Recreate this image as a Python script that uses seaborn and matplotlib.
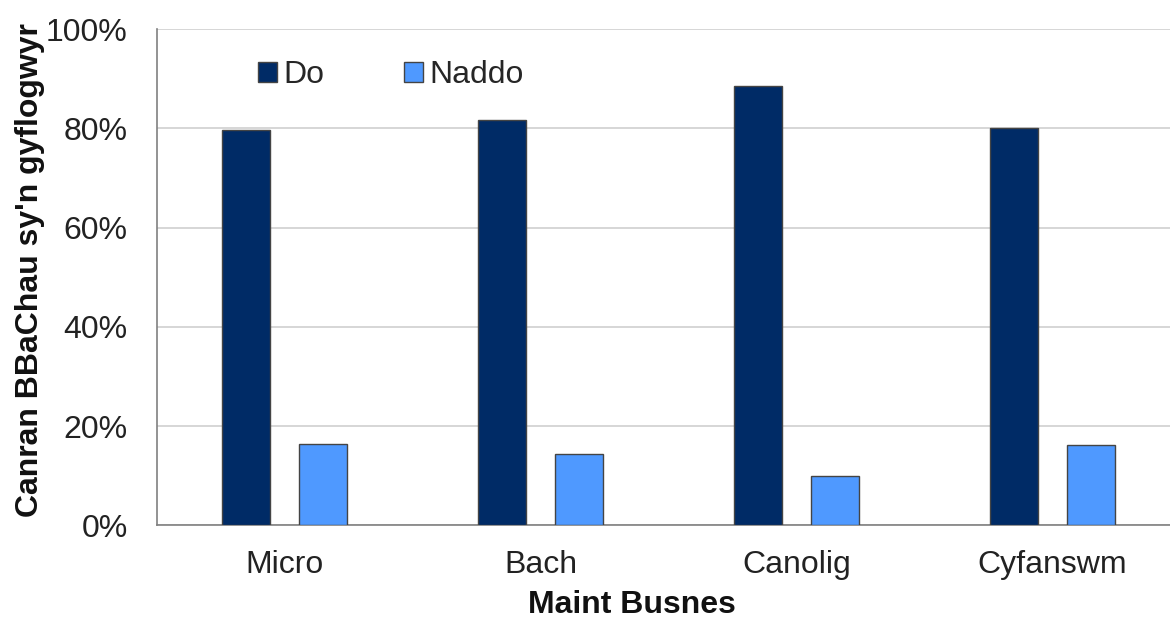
import matplotlib
matplotlib.use("Agg")
import matplotlib.pyplot as plt
import seaborn as sns
import pandas as pd
from matplotlib.ticker import PercentFormatter

categories = ["Micro", "Bach", "Canolig", "Cyfanswm"]
do_values = [79.7, 81.7, 88.6, 80.1]
naddo_values = [16.4, 14.3, 10.0, 16.1]
series_names = ["Do", "Naddo"]
colors = ["#002B66", "#4F99FF"]

df = pd.DataFrame({
    "cat": categories * 2,
    "val": do_values + naddo_values,
    "series": [series_names[0]] * 4 + [series_names[1]] * 4,
})

sns.set_style("white")
plt.rcParams["font.family"] = ["Liberation Sans", "DejaVu Sans"]

fig = plt.figure(figsize=(11.7, 6.18), dpi=100)
ax = fig.add_axes([0.134, 0.150, 0.875, 0.803])

sns.barplot(data=df, x="cat", y="val", hue="series", order=categories,
            hue_order=series_names, palette=colors, saturation=1,
            width=0.6, gap=0.375,
            edgecolor="#444444", linewidth=1.0, ax=ax, zorder=3)

ax.set_ylim(0, 100)
ax.set_yticks([0, 20, 40, 60, 80, 100])
ax.yaxis.set_major_formatter(PercentFormatter(decimals=0))
ax.grid(axis="y", color="#d0d0d0", linewidth=1.2, zorder=0)
ax.set_axisbelow(True)
ax.set_xlim(-0.5, 3.5)

for s in ["top", "right"]:
    ax.spines[s].set_visible(False)
for s in ["left", "bottom"]:
    ax.spines[s].set_color("#808080")
    ax.spines[s].set_linewidth(1.2)

ax.tick_params(axis="both", length=0, labelsize=23, colors="#222222")
ax.tick_params(axis="y", pad=21)
ax.tick_params(axis="x", pad=18)

ax.set_xlabel("Maint Busnes", fontsize=23, fontweight="bold", color="#111111")
ax.xaxis.label.set_va("center")
ax.xaxis.set_label_coords(0.464, -0.16)
ax.set_ylabel("Canran BBaChau sy'n gyflogwyr", fontsize=23, fontweight="bold", color="#111111")
ax.yaxis.label.set_va("center")
ax.yaxis.set_label_coords(-0.124, 0.514)

leg = ax.legend(loc="center left", bbox_to_anchor=(0.071, 0.907), ncol=2, frameon=False,
                fontsize=23, handlelength=0.6, handleheight=0.6, handletextpad=0.2,
                columnspacing=2.47)

fig.savefig("out.png", dpi=100)
